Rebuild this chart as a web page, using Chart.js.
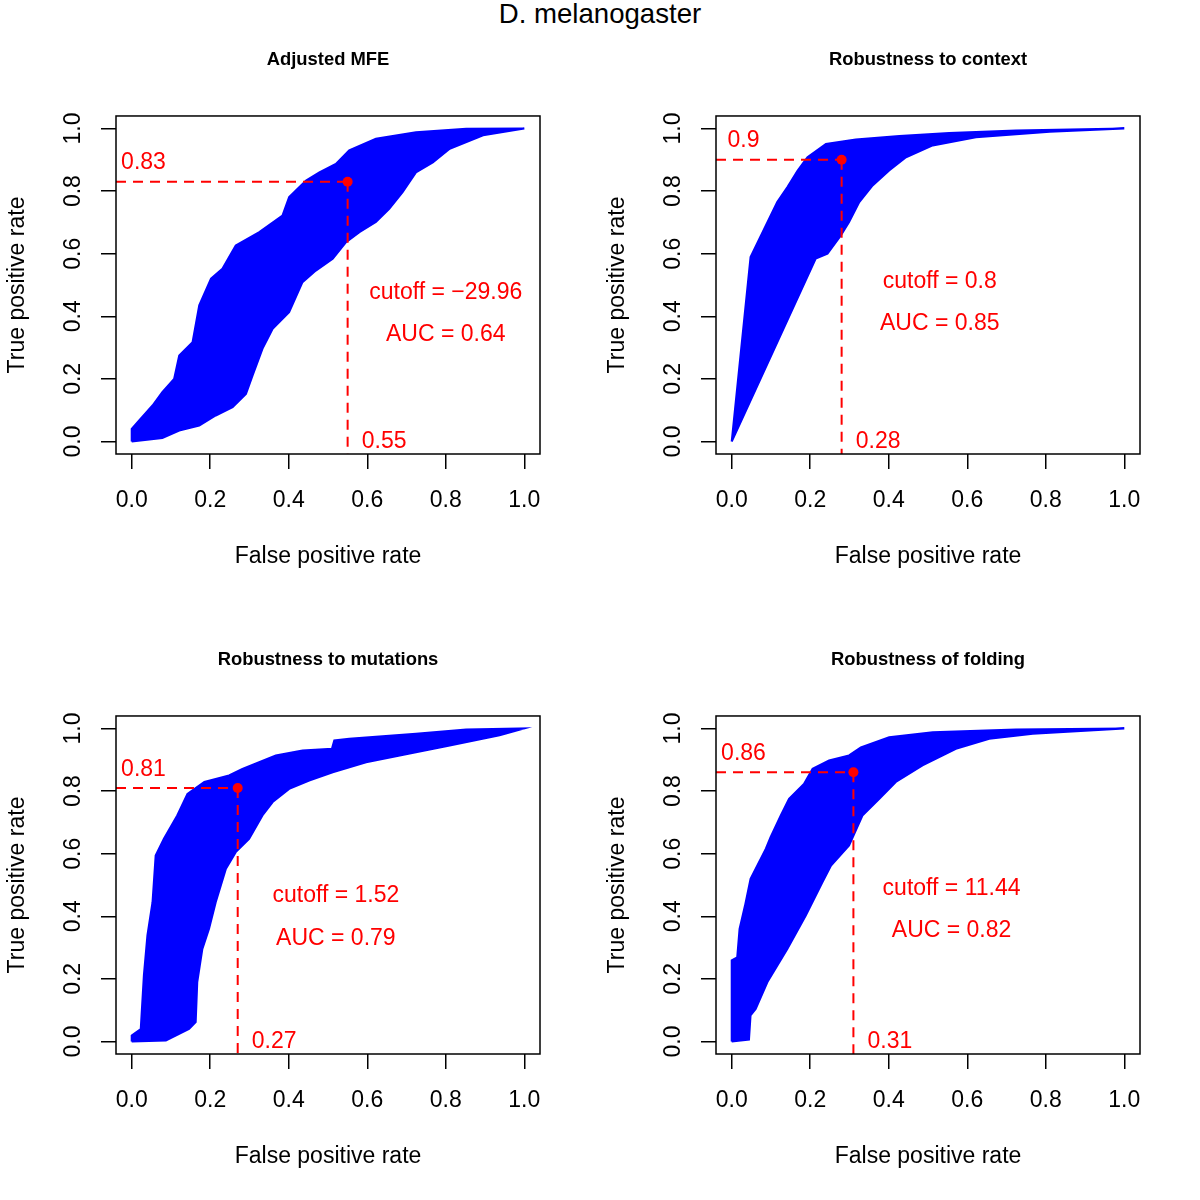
<!DOCTYPE html>
<html>
<head>
<meta charset="utf-8">
<script src="https://cdn.jsdelivr.net/npm/chart.js@4.4.0/dist/chart.umd.min.js"></script>
<style>
  body { margin: 0; background: #fff; width: 1200px; height: 1200px; position: relative;
         font-family: "Liberation Sans", Arial, Helvetica, sans-serif; }
  #main { position: absolute; left: 0; top: 0; width: 1200px; text-align: center;
          font-size: 27.6px; line-height: 28px; color: #000; }
  canvas { position: absolute; }
</style>
</head>
<body>
<div id="main">D. melanogaster</div>
<canvas id="c0" width="600" height="600" style="left:0;top:0"></canvas>
<canvas id="c1" width="600" height="600" style="left:600px;top:0"></canvas>
<canvas id="c2" width="600" height="600" style="left:0;top:600px"></canvas>
<canvas id="c3" width="600" height="600" style="left:600px;top:600px"></canvas>
<script>
// panel data
const panelTitles = ['Adjusted MFE', 'Robustness to context', 'Robustness to mutations', 'Robustness of folding'];
const cutoffs = ['\u221229.96', '0.8', '1.52', '11.44'];
const aucValues = ['0.64', '0.85', '0.79', '0.82'];
const cutFpr = [0.55, 0.28, 0.27, 0.31];
const cutTpr = [0.83, 0.9, 0.81, 0.86];
const tickValues = [0, 0.2, 0.4, 0.6, 0.8, 1.0];

// outer edges of the bundle of ROC curves, [fpr, tpr]
const mfeUpper = [[0,0],[0,0.04],[0.019,0.067],[0.053,0.115],[0.078,0.158],[0.108,0.2],[0.121,0.275],[0.155,0.317],[0.172,0.435],[0.202,0.52],[0.231,0.552],[0.265,0.626],[0.325,0.669],[0.384,0.722],[0.401,0.781],[0.444,0.834],[0.478,0.86],[0.52,0.887],[0.554,0.93],[0.622,0.967],[0.724,0.988],[0.852,0.999],[1,1]];
const mfeLower = [[0,0],[0.078,0.011],[0.121,0.035],[0.172,0.051],[0.214,0.083],[0.257,0.11],[0.291,0.152],[0.308,0.211],[0.333,0.296],[0.359,0.36],[0.401,0.413],[0.435,0.509],[0.469,0.546],[0.512,0.584],[0.546,0.637],[0.58,0.669],[0.622,0.701],[0.656,0.743],[0.69,0.797],[0.724,0.86],[0.767,0.892],[0.81,0.935],[0.895,0.978],[1,1]];
const contextUpper = [[0,0],[0.048,0.589],[0.087,0.69],[0.116,0.765],[0.142,0.813],[0.168,0.866],[0.193,0.908],[0.24,0.951],[0.316,0.965],[0.427,0.976],[0.554,0.986],[0.724,0.994],[1,1]];
const contextLower = [[0,0],[0.214,0.584],[0.244,0.6],[0.278,0.658],[0.299,0.701],[0.325,0.765],[0.359,0.818],[0.401,0.866],[0.444,0.908],[0.512,0.946],[0.622,0.972],[0.81,0.99],[1,1]];
const mutUpper = [[0,0],[0,0.019],[0.023,0.04],[0.031,0.211],[0.04,0.339],[0.053,0.445],[0.061,0.594],[0.082,0.648],[0.116,0.722],[0.142,0.791],[0.185,0.829],[0.248,0.85],[0.282,0.871],[0.367,0.914],[0.435,0.93],[0.51,0.935],[0.516,0.962],[0.554,0.967],[0.724,0.983],[0.852,0.997],[1,1]];
const mutLower = [[0,0],[0.087,0.003],[0.112,0.019],[0.146,0.04],[0.163,0.062],[0.167,0.19],[0.18,0.296],[0.197,0.36],[0.214,0.445],[0.24,0.552],[0.265,0.605],[0.299,0.647],[0.333,0.722],[0.359,0.765],[0.401,0.807],[0.452,0.834],[0.512,0.86],[0.597,0.892],[0.724,0.924],[0.81,0.946],[0.937,0.978],[1,1]];
const foldUpper = [[0,0],[0,0.259],[0.014,0.269],[0.02,0.36],[0.034,0.435],[0.048,0.52],[0.087,0.616],[0.099,0.653],[0.125,0.722],[0.146,0.775],[0.184,0.823],[0.206,0.871],[0.248,0.898],[0.299,0.914],[0.329,0.94],[0.401,0.972],[0.512,0.988],[0.724,0.997],[1,1]];
const foldLower = [[0,0],[0.044,0.006],[0.048,0.083],[0.061,0.104],[0.091,0.19],[0.142,0.296],[0.189,0.403],[0.231,0.509],[0.253,0.562],[0.299,0.626],[0.333,0.722],[0.376,0.775],[0.418,0.829],[0.486,0.882],[0.571,0.935],[0.656,0.967],[0.767,0.983],[1,1]];

const bandUpper = [mfeUpper, contextUpper, mutUpper, foldUpper];
const bandLower = [mfeLower, contextLower, mutLower, foldLower];

// text placement (data units)
const notePos = [
  {cutY: 0.476, aucY: 0.342},
  {cutY: 0.512, aucY: 0.377},
  {cutY: 0.467, aucY: 0.329},
  {cutY: 0.489, aucY: 0.355}
];

const FONT = '"Liberation Sans", Arial, Helvetica, sans-serif';
const BLUE = '#0000FF';
const RED = '#FF0000';
const AXMIN = -0.04, AXMAX = 1.04;

// box, rotated y tick labels and red notes
const rDecor = {
  id: 'rDecor',
  afterDraw(chart, args, opts) {
    const ctx = chart.ctx, a = chart.chartArea;
    const xs = chart.scales.x, ys = chart.scales.y;
    ctx.save();
    ctx.strokeStyle = '#000';
    ctx.lineWidth = 1.5;
    ctx.strokeRect(a.left, a.top, a.right - a.left, a.bottom - a.top);

    ctx.fillStyle = '#000';
    ctx.font = '23px ' + FONT;
    ctx.textAlign = 'center';
    ctx.textBaseline = 'middle';
    ys.ticks.forEach(t => {
      ctx.save();
      ctx.translate(a.left - 42, ys.getPixelForValue(t.value));
      ctx.rotate(-Math.PI / 2);
      ctx.fillText(t.value.toFixed(1), 0, 0);
      ctx.restore();
    });

    const i = opts.panel;
    const fpr = cutFpr[i], tpr = cutTpr[i];
    ctx.fillStyle = RED;
    ctx.fillText(String(tpr), xs.getPixelForValue(0.03), ys.getPixelForValue(tpr + 0.06));
    ctx.fillText(String(fpr), xs.getPixelForValue(fpr + 0.093), ys.getPixelForValue(0.0));
    ctx.fillText('cutoff = ' + cutoffs[i], xs.getPixelForValue(fpr + 0.25), ys.getPixelForValue(notePos[i].cutY));
    ctx.fillText('AUC = ' + aucValues[i], xs.getPixelForValue(fpr + 0.25), ys.getPixelForValue(notePos[i].aucY));
    ctx.restore();
  }
};

function makePanel(i) {
  const fpr = cutFpr[i], tpr = cutTpr[i];
  const band = bandUpper[i].concat(bandLower[i].slice().reverse()).map(p => ({x: p[0], y: p[1]}));
  const tickGrid = {drawOnChartArea: false, drawTicks: true, tickLength: 15, tickWidth: 1.5, tickColor: '#000', lineWidth: 1.5, color: '#000'};

  new Chart(document.getElementById('c' + i), {
    type: 'scatter',
    data: {
      datasets: [
        {data: [{x: fpr, y: tpr}], pointRadius: 5, pointBackgroundColor: RED, pointBorderColor: RED, pointBorderWidth: 0},
        {data: [{x: AXMIN, y: tpr}, {x: fpr, y: tpr}], showLine: true, borderColor: RED, borderWidth: 2, borderDash: [10, 7], pointRadius: 0},
        {data: [{x: fpr, y: tpr}, {x: fpr, y: AXMIN}], showLine: true, borderColor: RED, borderWidth: 2, borderDash: [10, 7], pointRadius: 0},
        {data: band, showLine: true, fill: 'shape', backgroundColor: BLUE, borderColor: BLUE, borderWidth: 2, pointRadius: 0, tension: 0}
      ]
    },
    options: {
      responsive: false,
      animation: false,
      events: [],
      layout: {padding: {left: 0, right: 60, top: 0, bottom: 0}},
      plugins: {
        legend: {display: false},
        tooltip: {enabled: false},
        title: {
          display: true, text: panelTitles[i], fullSize: false, color: '#000',
          font: {family: FONT, size: 18.4, weight: 'bold'},
          padding: {top: 49, bottom: 44.9}
        },
        rDecor: {panel: i}
      },
      scales: {
        x: {
          type: 'linear', min: AXMIN, max: AXMAX,
          afterBuildTicks: s => { s.ticks = tickValues.map(v => ({value: v})); },
          afterFit: s => { s.height = 146; },
          grid: tickGrid,
          border: {display: false},
          ticks: {color: '#000', font: {family: FONT, size: 23}, padding: 18, maxRotation: 0, autoSkip: false,
                  callback: v => v.toFixed(1)},
          title: {display: true, text: 'False positive rate', color: '#000', font: {family: FONT, size: 23},
                  padding: {top: 0, bottom: 30}}
        },
        y: {
          type: 'linear', min: AXMIN, max: AXMAX,
          afterBuildTicks: s => { s.ticks = tickValues.map(v => ({value: v})); },
          afterFit: s => { s.width = 116; },
          grid: tickGrid,
          border: {display: false},
          ticks: {display: false},
          title: {display: true, text: 'True positive rate', color: '#000', font: {family: FONT, size: 23},
                  padding: {top: 4, bottom: 0}}
        }
      }
    },
    plugins: [rDecor]
  });
}

for (let i = 0; i < 4; i++) makePanel(i);
</script>
</body>
</html>
